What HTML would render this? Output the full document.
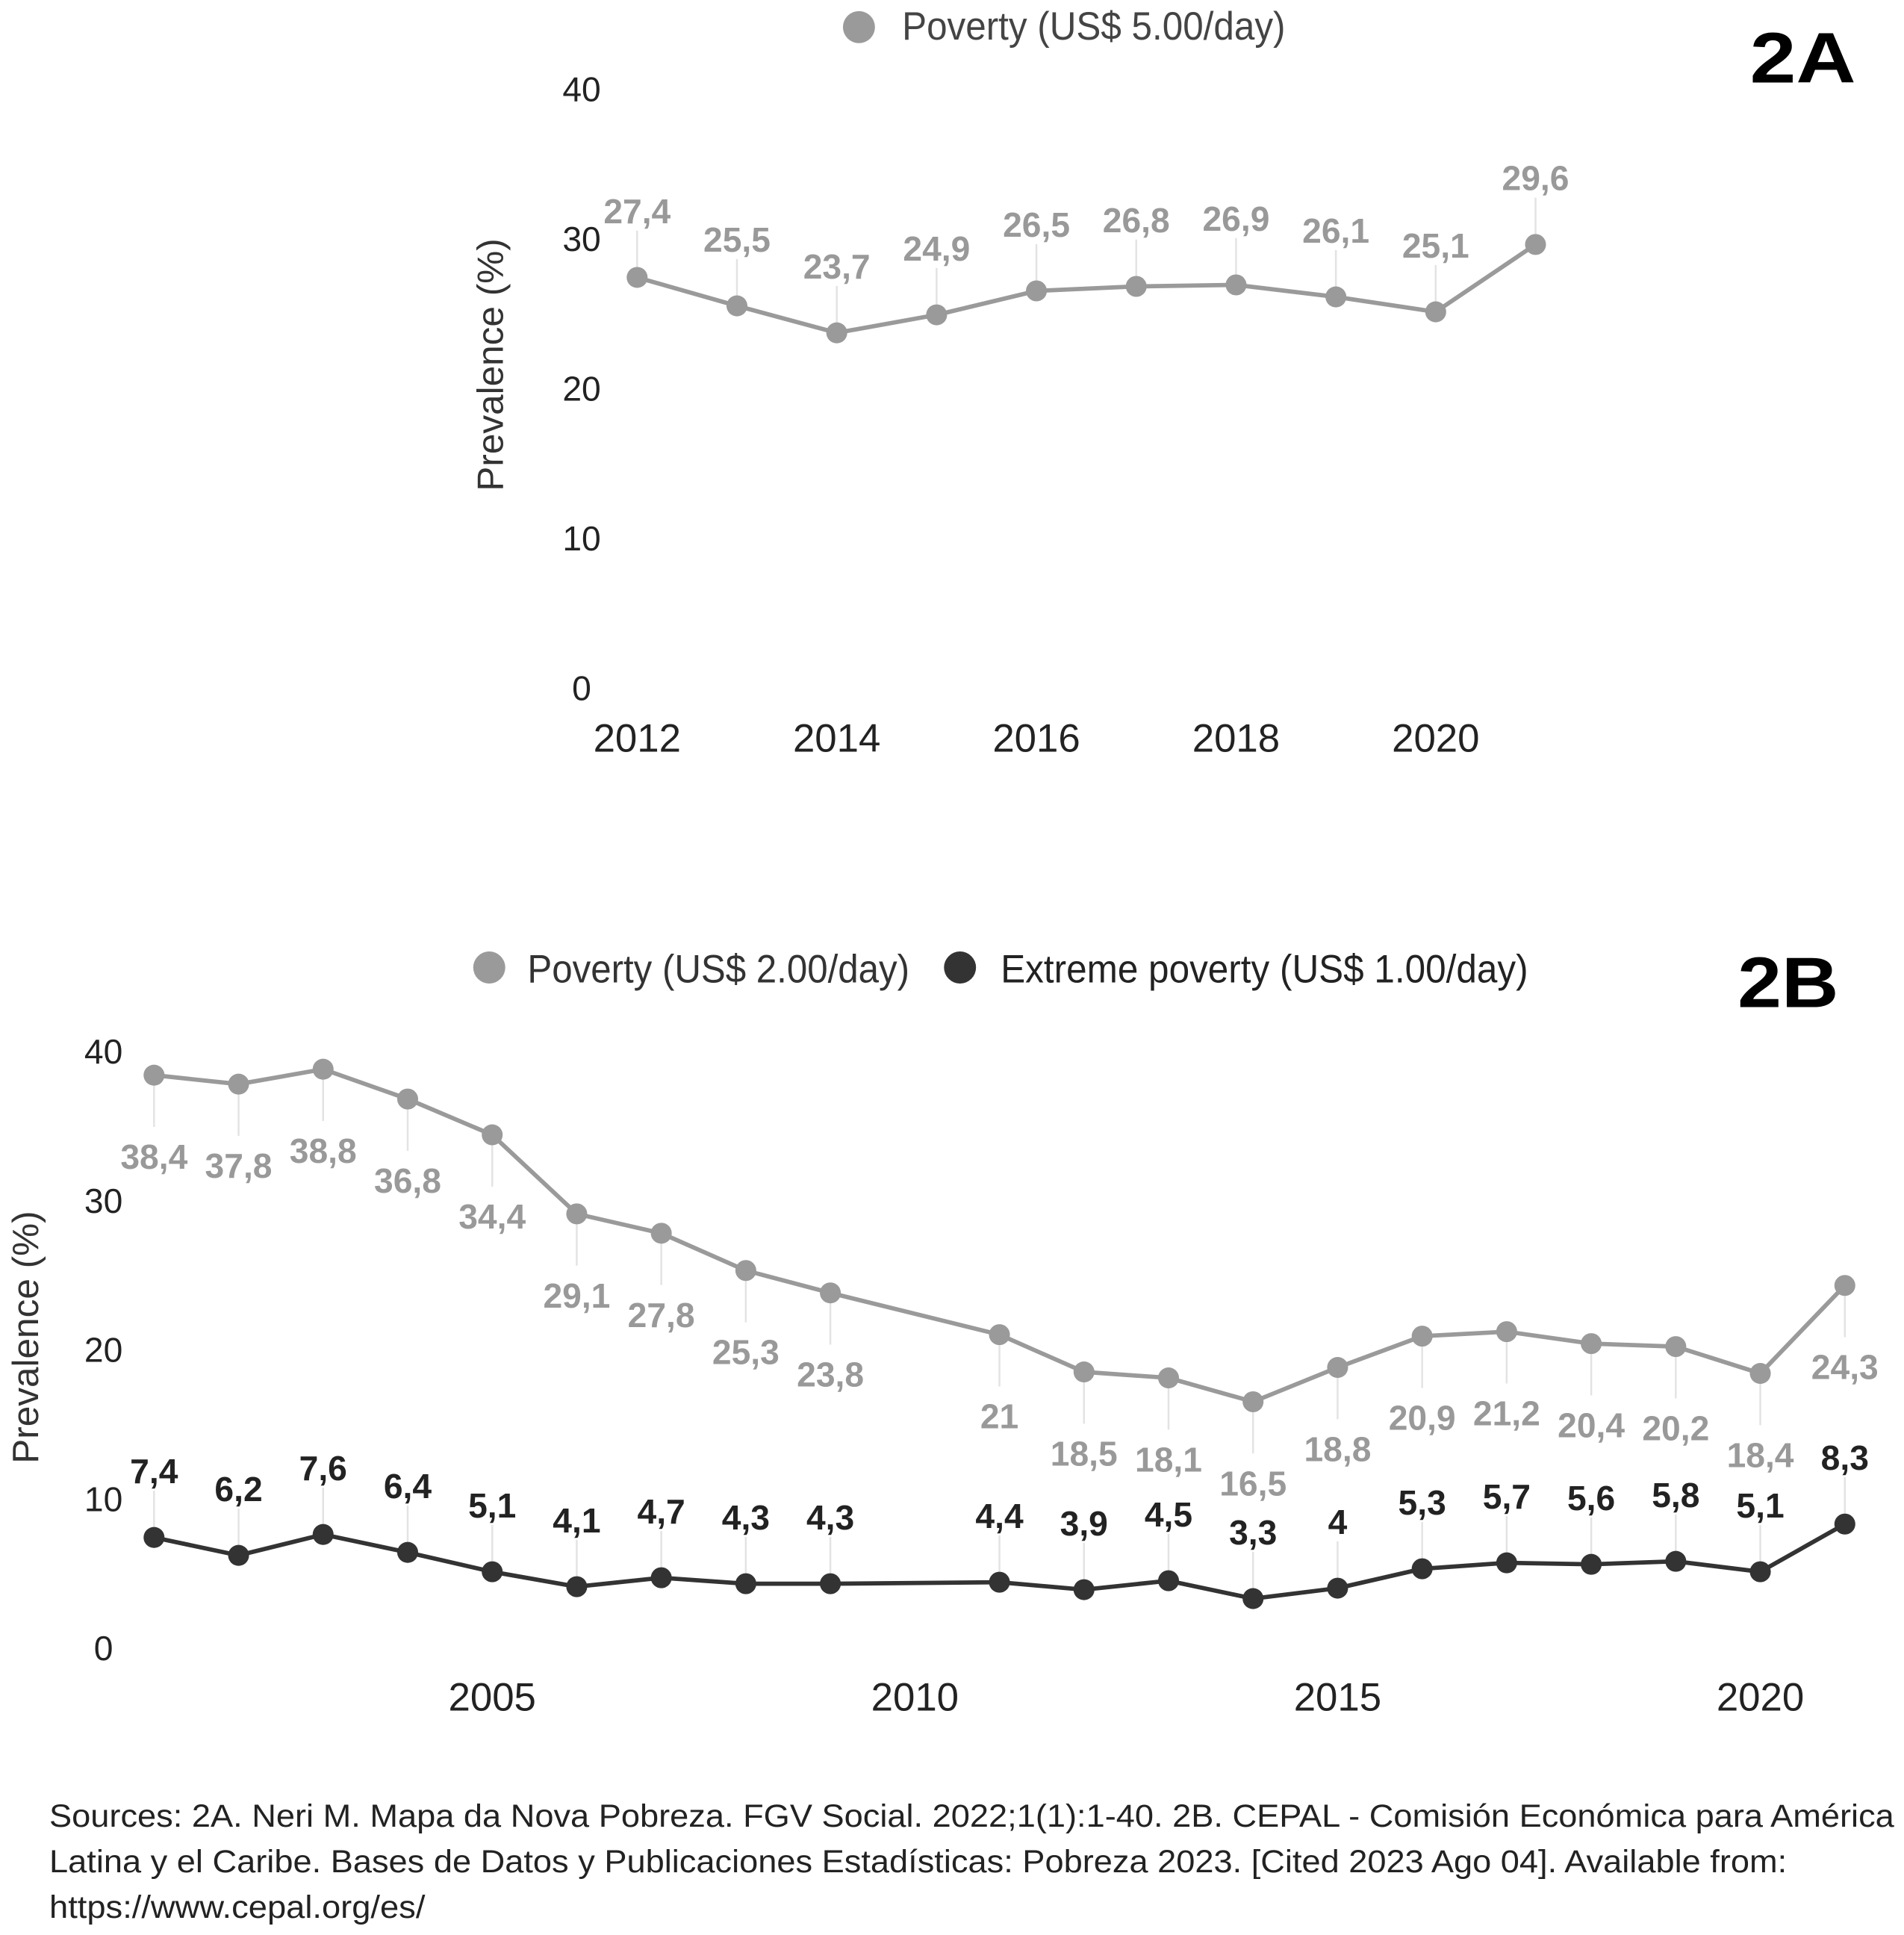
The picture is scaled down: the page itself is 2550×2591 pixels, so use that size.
<!DOCTYPE html>
<html><head><meta charset="utf-8">
<style>
html,body{margin:0;padding:0;background:#fff;}
svg{display:block;}
text{font-family:"Liberation Sans",sans-serif;}
</style></head>
<body>
<svg id="fig" width="2550" height="2591" viewBox="0 0 1545 1570" preserveAspectRatio="none" xmlns="http://www.w3.org/2000/svg">
  <rect x="0" y="0" width="1545" height="1570" fill="#fff"/>
  <g>
    <circle cx="697" cy="22" r="13" fill="#9a9a9a"/>
    <text x="732" y="32" font-size="32" fill="#444" textLength="311" lengthAdjust="spacingAndGlyphs">Poverty (US$ 5.00/day)</text>
    <text x="1420" y="67" font-size="58" font-weight="bold" fill="#000" textLength="86" lengthAdjust="spacingAndGlyphs">2A</text>
    <text transform="translate(408,296) rotate(-90)" text-anchor="middle" font-size="30" fill="#333">Prevalence (%)</text>
    <g id="a-yticks"></g>
    <g id="a-xticks"></g>
    <g id="a-series"></g>
  </g>
  <g>
    <circle cx="397" cy="785" r="13" fill="#9a9a9a"/>
    <text x="428" y="797" font-size="32" fill="#333" textLength="310" lengthAdjust="spacingAndGlyphs">Poverty (US$ 2.00/day)</text>
    <circle cx="779" cy="785" r="13" fill="#333"/>
    <text x="812" y="797" font-size="32" fill="#222" textLength="428" lengthAdjust="spacingAndGlyphs">Extreme poverty (US$ 1.00/day)</text>
    <text x="1410" y="817" font-size="58" font-weight="bold" fill="#000" textLength="82" lengthAdjust="spacingAndGlyphs">2B</text>
    <text transform="translate(31,1085) rotate(-90)" text-anchor="middle" font-size="30" fill="#333">Prevalence (%)</text>
    <g id="b-yticks"></g>
    <g id="b-xticks"></g>
    <g id="b-series"></g>
  </g>
  <g font-size="26" fill="#222">
    <text x="40" y="1482" textLength="1497" lengthAdjust="spacingAndGlyphs">Sources: 2A. Neri M. Mapa da Nova Pobreza. FGV Social. 2022;1(1):1-40. 2B. CEPAL - Comisión Económica para América</text>
    <text x="40" y="1519" textLength="1410" lengthAdjust="spacingAndGlyphs">Latina y el Caribe. Bases de Datos y Publicaciones Estadísticas: Pobreza 2023. [Cited 2023 Ago 04]. Available from:</text>
    <text x="40" y="1556" textLength="305" lengthAdjust="spacingAndGlyphs">https://www.cepal.org/es/</text>
  </g>
</svg>
<script>
const aYears = [2012,2013,2014,2015,2016,2017,2018,2019,2020,2021];
const aPoverty = [27.4,25.5,23.7,24.9,26.5,26.8,26.9,26.1,25.1,29.6];
const aYTicks = [0,10,20,30,40];
const aXTicks = [2012,2014,2016,2018,2020];
const bYears = [2001,2002,2003,2004,2005,2006,2007,2008,2009,2011,2012,2013,2014,2015,2016,2017,2018,2019,2020,2021];
const bPoverty = [38.4,37.8,38.8,36.8,34.4,29.1,27.8,25.3,23.8,21,18.5,18.1,16.5,18.8,20.9,21.2,20.4,20.2,18.4,24.3];
const bExtreme = [7.4,6.2,7.6,6.4,5.1,4.1,4.7,4.3,4.3,4.4,3.9,4.5,3.3,4,5.3,5.7,5.6,5.8,5.1,8.3];
const bYTicks = [0,10,20,30,40];
const bXTicks = [2005,2010,2015,2020];

const NS = "http://www.w3.org/2000/svg";
function mk(tag, attrs, parent){const e=document.createElementNS(NS,tag);for(const k in attrs)e.setAttribute(k,attrs[k]);parent.appendChild(e);return e;}
const fmt = v => String(v).replace('.',',');

const axA = y => 517 + (y-2012)*81;
const ayA = v => 558 - v*12.15;
const axB = y => 125 + (y-2001)*68.6;
const ayB = v => 1337 - v*12.1;

const aYT = document.getElementById('a-yticks');
aYTicks.forEach(t=>{const e=mk('text',{x:472,y:ayA(t)+10,'text-anchor':'middle','font-size':28,fill:'#222'},aYT);e.textContent=t;

});
const aXT = document.getElementById('a-xticks');
aXTicks.forEach(t=>{const e=mk('text',{x:axA(t),y:610,'text-anchor':'middle','font-size':32,fill:'#222'},aXT);e.textContent=t;

});

function drawSeries(g, xs, vs, sx, sy, color, labelColor, below, name){
  vs.forEach((v,i)=>{
    const px=sx(xs[i]), py=sy(v);
    const l=mk('line',{x1:px,y1:py,x2:px,y2:below?py+42:py-38,stroke:'#e3e3e3','stroke-width':1.5},g);
    
    
  });
  const pts = vs.map((v,i)=>sx(xs[i])+','+sy(v)).join(' ');
  const pl=mk('polyline',{points:pts,fill:'none',stroke:color,'stroke-width':3.5},g);
  
  
  vs.forEach((v,i)=>{
    const px=sx(xs[i]), py=sy(v);
    const c=mk('circle',{cx:px,cy:py,r:8.5,fill:color},g);
    
    
    const t=mk('text',{x:px,y:below?py+76:py-44,'text-anchor':'middle','font-size':28,fill:labelColor,'font-weight':'bold'},g);
    t.textContent=fmt(v);
    
    
  });
}
drawSeries(document.getElementById('a-series'), aYears, aPoverty, axA, ayA, '#9a9a9a', '#999', false, 'poverty-5');

const bYT = document.getElementById('b-yticks');
bYTicks.forEach(t=>{const e=mk('text',{x:84,y:ayB(t)+10,'text-anchor':'middle','font-size':28,fill:'#222'},bYT);e.textContent=t;

});
const bXT = document.getElementById('b-xticks');
bXTicks.forEach(t=>{const e=mk('text',{x:axB(t),y:1388,'text-anchor':'middle','font-size':32,fill:'#222'},bXT);e.textContent=t;

});

const bg = document.getElementById('b-series');
drawSeries(bg, bYears, bPoverty, axB, ayB, '#9a9a9a', '#999', true, 'poverty-2');
drawSeries(bg, bYears, bExtreme, axB, ayB, '#333', '#222', false, 'extreme-poverty');
</script>
</body></html>
